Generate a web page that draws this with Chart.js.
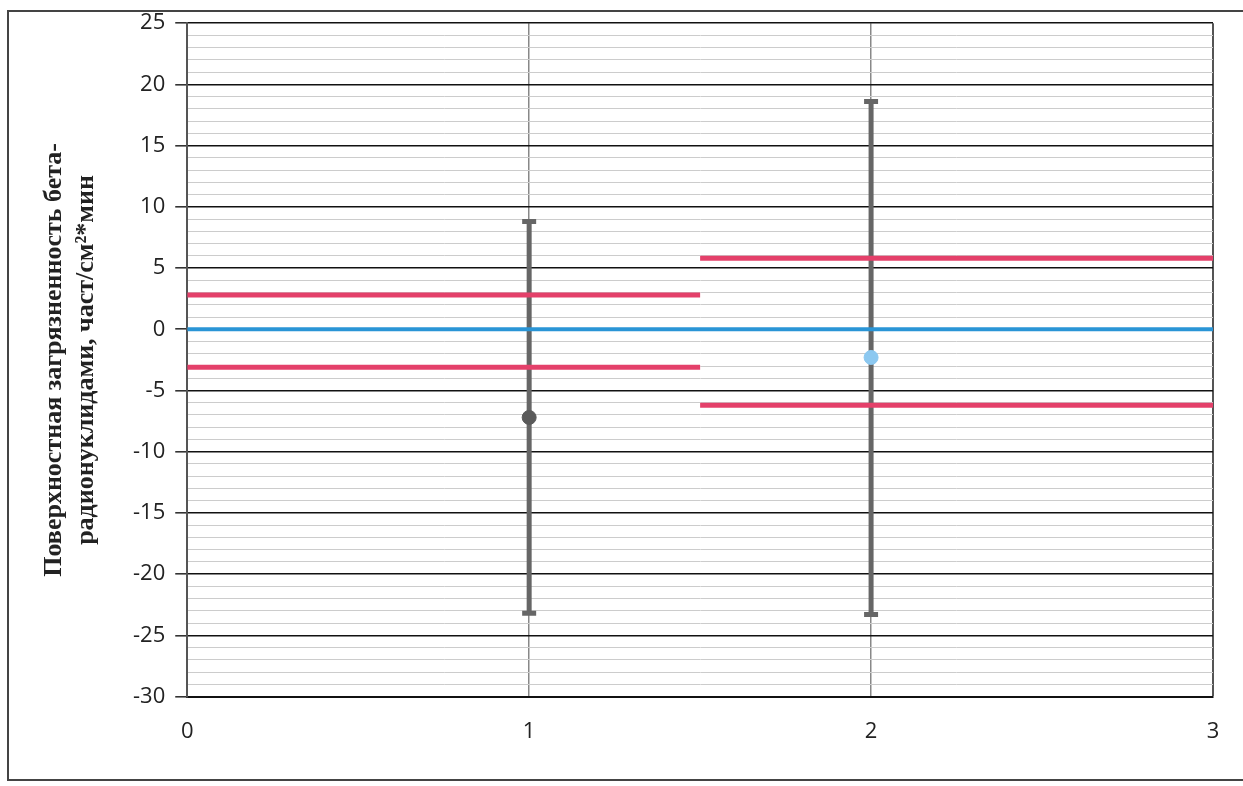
<!DOCTYPE html>
<html>
<head>
<meta charset="utf-8">
<script src="https://cdn.jsdelivr.net/npm/chart.js@4.4.0/dist/chart.umd.min.js"></script>
<style>
  html, body { margin: 0; padding: 0; background: #fff; }
  #wrap { position: relative; width: 1243px; height: 786px; }
  #frame { position: absolute; left: 7px; top: 10px; width: 1250px; height: 771px; border: 2px solid #444; box-sizing: border-box; }
  canvas { position: absolute; left: 0; top: 0; }
</style>
</head>
<body>
<div id="wrap">
  <div id="frame"></div>
  <canvas id="grafico" width="1243" height="786"></canvas>
</div>
<script>
// dados
var pontosX = [1, 2];
var medias = [-7.2, -2.3];
var erroInferior = [-23.2, -23.3];
var erroSuperior = [8.8, 18.6];
var coresPontos = ['#5a5a5a', '#8cc8f0'];

// faixas (limites) em vermelho
var faixasX = [[0, 1.5], [1.5, 3]];
var limiteSuperior = [2.8, 5.8];
var limiteInferior = [-3.1, -6.2];
var linhaBase = 0;

var tituloEixoY = ['Поверхностная загрязненность бета-', 'радионуклидами, част/см²*мин'];

var datasets = [];

// barras de erro
for (var i = 0; i < pontosX.length; i++) {
  datasets.push({
    data: [{x: pontosX[i], y: erroInferior[i]}, {x: pontosX[i], y: erroSuperior[i]}],
    borderColor: '#666',
    borderWidth: 5,
    pointStyle: 'line',
    pointRadius: 7,
    pointBorderWidth: 5,
    pointBorderColor: '#666',
    showLine: true,
    order: 3
  });
}

// linhas vermelhas
for (var j = 0; j < faixasX.length; j++) {
  [limiteSuperior[j], limiteInferior[j]].forEach(function (v) {
    datasets.push({
      data: [{x: faixasX[j][0], y: v}, {x: faixasX[j][1], y: v}],
      borderColor: '#e4406a',
      borderWidth: 5,
      pointRadius: 0,
      showLine: true,
      order: 2
    });
  });
}

// linha azul
datasets.push({
  data: [{x: 0, y: linhaBase}, {x: 3, y: linhaBase}],
  borderColor: '#2a95d6',
  borderWidth: 4,
  pointRadius: 0,
  showLine: true,
  order: 2
});

// pontos
for (var k = 0; k < pontosX.length; k++) {
  datasets.push({
    data: [{x: pontosX[k], y: medias[k]}],
    backgroundColor: coresPontos[k],
    borderColor: coresPontos[k],
    pointRadius: 7,
    pointHoverRadius: 7,
    order: 0
  });
}

var ctx = document.getElementById('grafico');
var chartGraph = new Chart(ctx, {
  type: 'scatter',
  data: { datasets: datasets },
  options: {
    responsive: false,
    animation: false,
    layout: { padding: { left: 38, right: 30, top: 10, bottom: 19 } },
    plugins: { legend: { display: false }, tooltip: { enabled: false } },
    scales: {
      x: {
        type: 'linear', min: 0, max: 3,
        ticks: { stepSize: 1, color: '#222', font: { family: 'Open Sans', size: 22 }, padding: 22 },
        grid: {
          drawTicks: false,
          color: function (c) { return c.tick.value === 0 ? 'rgba(0,0,0,0)' : (c.tick.value === 3 ? '#555' : '#888'); },
          lineWidth: function (c) { return c.tick.value === 3 ? 2 : 1.5; }
        },
        border: { color: '#111', width: 2 }
      },
      y: {
        type: 'linear', min: -30, max: 25,
        ticks: {
          stepSize: 1, autoSkip: false, color: '#222', padding: 10,
          font: { family: 'Open Sans', size: 22 },
          callback: function (v) { return v % 5 === 0 ? v : ''; }
        },
        grid: {
          tickLength: 12,
          color: function (c) { return c.tick.value % 5 === 0 ? '#111' : '#cccccc'; },
          lineWidth: function (c) { return c.tick.value % 5 === 0 ? 1.6 : 1; },
          tickColor: function (c) { return c.tick.value % 5 === 0 ? '#333' : 'rgba(0,0,0,0)'; }
        },
        border: { color: '#555', width: 2 },
        title: {
          display: true,
          text: tituloEixoY,
          color: '#222',
          font: { family: 'Liberation Serif', size: 26, weight: 'bold', lineHeight: 1.25 },
          padding: { top: 0, bottom: 20 }
        }
      }
    }
  }
});
</script>
</body>
</html>
